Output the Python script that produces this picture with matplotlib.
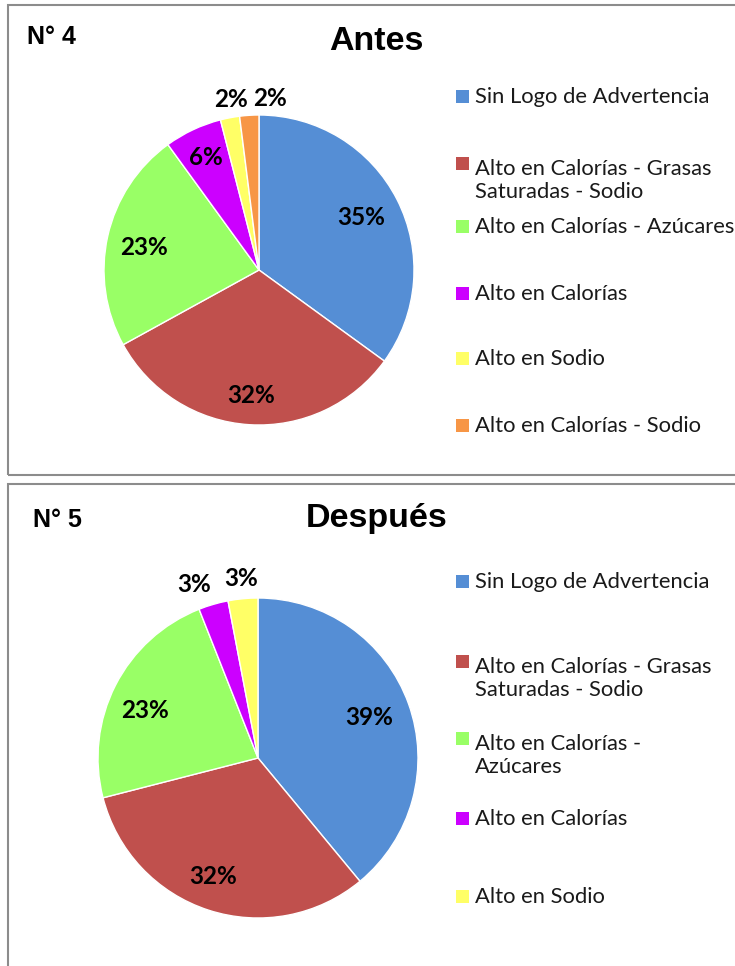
import numpy as np
import matplotlib
matplotlib.use('Agg')
import matplotlib.pyplot as plt
from matplotlib.patches import Rectangle

# datos
categorias = ['Sin Logo de Advertencia',
              'Alto en Calorías - Grasas Saturadas - Sodio',
              'Alto en Calorías - Azúcares',
              'Alto en Calorías',
              'Alto en Sodio',
              'Alto en Calorías - Sodio']
antes = [35, 32, 23, 6, 2, 2]
despues = [39, 32, 23, 3, 3]

colores = ['#558ED5', '#C0504D', '#99FF66', '#CC00FF', '#FFFF66', '#F79646']

# etiquetas de leyenda tal como salen cortadas en cada grafico
leyenda_antes = ['Sin Logo de Advertencia',
                 'Alto en Calorías - Grasas\nSaturadas - Sodio',
                 'Alto en Calorías - Azúcares',
                 'Alto en Calorías',
                 'Alto en Sodio',
                 'Alto en Calorías - Sodio']
leyenda_despues = ['Sin Logo de Advertencia',
                   'Alto en Calorías - Grasas\nSaturadas - Sodio',
                   'Alto en Calorías -\nAzúcares',
                   'Alto en Calorías',
                   'Alto en Sodio']

W, H = 735, 966
fuente = ['Lato', 'DejaVu Sans']
titulo_fuente = ['Liberation Sans', 'DejaVu Sans']


def px(x, y):
    # pixeles (desde arriba) -> fraccion de figura
    return x / W, 1 - y / H


def torta(fig, valores, cx, cy, r, dist, desp):
    lado = 2.6 * r
    ax = fig.add_axes([(cx - lado / 2) / W, (H - cy - lado / 2) / H, lado / W, lado / H])
    ax.pie(valores, colors=colores[:len(valores)], startangle=90, counterclock=False,
           wedgeprops=dict(edgecolor='white', linewidth=1))
    ax.set_xlim(-1.3, 1.3)
    ax.set_ylim(-1.3, 1.3)
    ax.set_aspect('equal')
    total = float(sum(valores))
    acum = 0.0
    for i, v in enumerate(valores):
        medio = acum + v / 2.0
        ang = np.deg2rad(90 - 360 * medio / total)
        acum += v
        ax.annotate('%d%%' % round(100 * v / total),
                    xy=(dist[i] * np.cos(ang), dist[i] * np.sin(ang)),
                    xytext=desp[i], textcoords='offset pixels',
                    ha='center', va='center', fontsize=17.5, fontweight='bold',
                    family=fuente, color='black')
    return ax


def leyenda(fig, etiquetas, bases):
    # bases = linea base de la primera linea de cada entrada (px)
    for i, et in enumerate(etiquetas):
        x0, y0 = px(456, bases[i])
        fig.patches.append(Rectangle((x0, y0), 13 / W, 13 / H, transform=fig.transFigure,
                                     facecolor=colores[i], edgecolor='none'))
        extra = et.count('\n') * 28
        x1, y1 = px(475, bases[i] + extra)
        fig.text(x1, y1, et, ha='left', va='baseline', fontsize=15.8, family=fuente,
                 color='#1a1a1a', linespacing=1.2)


fig = plt.figure(figsize=(W / 100, H / 100), dpi=100)

# marcos
x0, y0 = px(8, 475)
fig.patches.append(Rectangle((x0, y0), 1.0, 470 / H, transform=fig.transFigure,
                             facecolor='none', edgecolor='#8c8c8c', linewidth=1.5))
x0, y0 = px(8, 1000)
fig.patches.append(Rectangle((x0, y0), 1.0, 516 / H, transform=fig.transFigure,
                             facecolor='none', edgecolor='#8c8c8c', linewidth=1.5))

# grafico 1: Antes
torta(fig, antes, 259, 270, 155,
      [0.74, 0.81, 0.76, 0.80, 1.12, 1.11],
      [(0, 0), (0, 0), (0, -3), (0, 0), (5, 0), (22, 0)])
fig.text(*px(376, 42), 'Antes', ha='center', va='center', fontsize=24.5,
         fontweight='bold', family=titulo_fuente)
fig.text(*px(27, 37), 'N° 4', ha='left', va='center', fontsize=18,
         fontweight='bold', family=titulo_fuente)
leyenda(fig, leyenda_antes, [103, 170, 233, 300, 365, 432])

# grafico 2: Despues
torta(fig, despues, 258, 758, 160,
      [0.74, 0.79, 0.76, 1.13, 1.13],
      [(0, 0), (-6, 2), (-5, -8), (-13, 0), (0, 0)])
fig.text(*px(377, 519), 'Después', ha='center', va='center', fontsize=24.5,
         fontweight='bold', family=titulo_fuente)
fig.text(*px(33, 520), 'N° 5', ha='left', va='center', fontsize=18,
         fontweight='bold', family=titulo_fuente)
leyenda(fig, leyenda_despues, [588, 668, 745, 825, 903])

fig.savefig('out.png', dpi=100)
